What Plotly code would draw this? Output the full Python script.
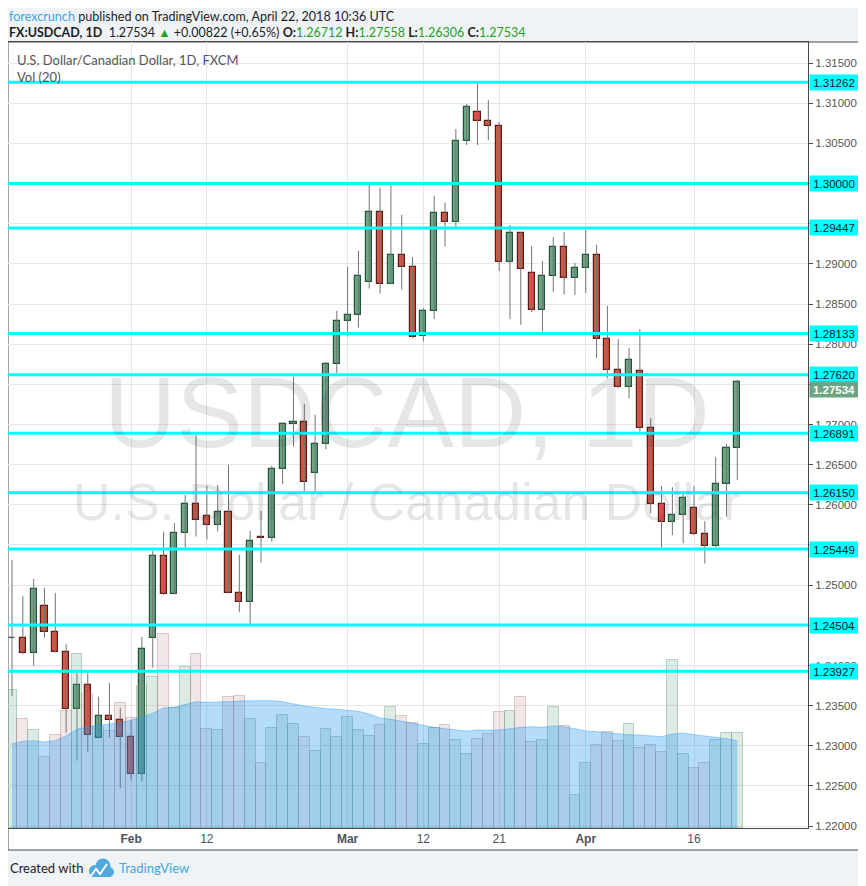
import pandas as pd
import plotly.graph_objects as go

# ---------------- data ----------------
dates = pd.bdate_range("2018-01-17", "2018-04-20").strftime("%Y-%m-%d").tolist()

open_ = [1.24337, 1.24339, 1.24153, 1.24738, 1.24414, 1.24165, 1.23455, 1.23754, 1.23094, 1.23372,
         1.23318, 1.23107, 1.22646, 1.24339, 1.25361, 1.24887, 1.25647, 1.26008, 1.25859, 1.25747,
         1.25908, 1.24900, 1.24788, 1.25597, 1.25585, 1.26444, 1.27004, 1.27029, 1.26394, 1.26755,
         1.27752, 1.28287, 1.28362, 1.28773, 1.29644, 1.28748, 1.29109, 1.28960, 1.28100, 1.28412,
         1.29632, 1.29520, 1.30529, 1.30890, 1.30778, 1.30715, 1.29022, 1.29383, 1.28885, 1.28424,
         1.28847, 1.29209, 1.28823, 1.28947, 1.29109, 1.28063, 1.27677, 1.27465, 1.27664, 1.26955,
         1.26008, 1.25784, 1.25871, 1.25958, 1.25635, 1.25485, 1.26257, 1.26712]
high = [1.25315, 1.24866, 1.25078, 1.24966, 1.24904, 1.24265, 1.23904, 1.23904, 1.23612, 1.23783,
        1.23475, 1.23318, 1.24356, 1.25427, 1.25663, 1.25775, 1.26124, 1.26871, 1.26236, 1.26248,
        1.26498, 1.25377, 1.25676, 1.25925, 1.26485, 1.27029, 1.27590, 1.27257, 1.27120, 1.27777,
        1.28415, 1.28963, 1.29163, 1.29984, 1.29947, 1.29984, 1.29611, 1.29084, 1.28449, 1.29848,
        1.29760, 1.30678, 1.30989, 1.31238, 1.31039, 1.30765, 1.29483, 1.29395, 1.29221, 1.29034,
        1.29333, 1.29395, 1.29009, 1.29420, 1.29237, 1.28478, 1.28063, 1.27951, 1.28187, 1.27079,
        1.26232, 1.26220, 1.26170, 1.26232, 1.25796, 1.26593, 1.26755, 1.27558]
low = [1.23621, 1.24140, 1.23998, 1.24347, 1.24163, 1.23164, 1.22815, 1.22927, 1.23091, 1.23102,
       1.22471, 1.22566, 1.22554, 1.23973, 1.24879, 1.24885, 1.25468, 1.25605, 1.25567, 1.25667,
       1.24897, 1.24663, 1.24517, 1.25281, 1.25542, 1.26257, 1.26725, 1.26165, 1.26145, 1.26693,
       1.27640, 1.28095, 1.28207, 1.28693, 1.28631, 1.28745, 1.28681, 1.28075, 1.28033, 1.28312,
       1.29216, 1.29465, 1.30479, 1.30479, 1.30541, 1.28910, 1.28312, 1.28241, 1.28399, 1.28158,
       1.28648, 1.28618, 1.28611, 1.28636, 1.27826, 1.27577, 1.27448, 1.27328, 1.26912, 1.25896,
       1.25473, 1.25622, 1.25522, 1.25622, 1.25268, 1.25473, 1.25854, 1.26306]
close = [1.24343, 1.24153, 1.24950, 1.24414, 1.24165, 1.23455, 1.23754, 1.23131, 1.23372, 1.23318,
         1.23107, 1.22646, 1.24202, 1.25361, 1.24887, 1.25647, 1.26008, 1.25809, 1.25747, 1.25908,
         1.24900, 1.24788, 1.25547, 1.25588, 1.26444, 1.27004, 1.27029, 1.26282, 1.26755, 1.27752,
         1.28287, 1.28362, 1.28847, 1.29644, 1.28748, 1.29109, 1.28960, 1.28088, 1.28412, 1.29632,
         1.29520, 1.30529, 1.30952, 1.30778, 1.30715, 1.29022, 1.29383, 1.28935, 1.28424, 1.28847,
         1.29209, 1.28823, 1.28947, 1.29109, 1.28063, 1.27677, 1.27465, 1.27801, 1.26955, 1.26008,
         1.25784, 1.25871, 1.26083, 1.25635, 1.25485, 1.26257, 1.26706, 1.27534]

volume = [138, 109, 98, 71, 93, 117, 174, 134, 101, 97,
          125, 110, 142, 151, 194, 120, 161, 174, 99, 98,
          131, 132, 109, 65, 100, 113, 104, 91, 77, 99,
          91, 111, 98, 92, 103, 121, 112, 105, 84, 100,
          103, 88, 74, 89, 94, 116, 117, 131, 86, 88,
          121, 102, 33, 65, 83, 96, 87, 104, 80, 83,
          76, 168, 74, 60, 65, 88, 95, 95]
volume_ma20 = [84.3, 86.7, 87.3, 86, 87.3, 92, 98.7, 101.3, 102.7, 104,
               105.3, 108, 110.7, 114.7, 120, 120.7, 123.3, 126.3, 125.7, 125.7,
               126.3, 127, 127, 126.7, 127.3, 126.3, 124, 122, 120.7, 119.3,
               118.7, 118, 116.7, 114, 110, 108.7, 106.7, 104, 102, 100.7,
               99.3, 98, 97, 98, 98, 98, 99.3, 100.7, 101.3, 100.7,
               102, 101.3, 99.3, 97, 96.3, 95.3, 94, 93.3, 93, 92.3,
               91.3, 94, 95, 93.3, 92.3, 90.7, 89.3, 87.3]

levels = [1.31262, 1.30000, 1.29447, 1.28133, 1.27620, 1.26891, 1.26150, 1.25449, 1.24504, 1.23927]
last_price = 1.27534

price_ticks = [1.220, 1.225, 1.230, 1.235, 1.240, 1.245, 1.250, 1.255, 1.260, 1.265,
               1.270, 1.275, 1.280, 1.285, 1.290, 1.295, 1.300, 1.305, 1.310, 1.315]
tick_dates = ["2018-02-01", "2018-02-12", "2018-03-01", "2018-03-12", "2018-03-21", "2018-04-02", "2018-04-16"]
tick_text = ["<b>Feb</b>", "12", "<b>Mar</b>", "12", "21", "<b>Apr</b>", "16"]

n = len(dates)
assert all(len(a) == n for a in (open_, high, low, close, volume, volume_ma20))

# tick labels that sit fully under a level label are not visible in the original
covered = levels + [last_price]
price_tick_text = ["" if any(abs(t - c) < 0.0006 for c in covered) else f"{t:.5f}" for t in price_ticks]

# ---------------- layout geometry (screen pixels) ----------------
VW, VH = 866, 886          # browser window
OFF = 8                    # default page margin of the html body
W, H = VW - OFF, VH - OFF  # figure size so that it ends at the window edge
PL, PR, PT, PB = 8, 808, 42, 828   # plot area in screen pixels


def fx(x):
    return (x - PL) / (PR - PL)


def fy(y):
    return (PB - y) / (PB - PT)


GREEN, GREEN_LINE = "#6ba583", "#225437"
RED, RED_LINE = "#d75442", "#5b1a13"
up = [c >= o for o, c in zip(open_, close)]

fig = go.Figure()

# volume bars
fig.add_trace(go.Bar(
    x=dates, y=volume, yaxis="y2", width=1.0,
    marker=dict(color=["rgba(107,165,131,0.22)" if u else "rgba(170,110,110,0.17)" for u in up],
                line=dict(color=["rgba(107,165,131,0.45)" if u else "rgba(170,110,110,0.35)" for u in up],
                          width=1)),
    hoverinfo="skip"))

# wicks
wx, wy = [], []
for d, hi, lo in zip(dates, high, low):
    wx += [d, d, None]
    wy += [lo, hi, None]
fig.add_trace(go.Scatter(x=wx, y=wy, mode="lines", line=dict(color="#737375", width=1),
                         hoverinfo="skip", connectgaps=False))

# candle bodies
fig.add_trace(go.Bar(
    x=dates,
    base=[min(o, c) for o, c in zip(open_, close)],
    y=[max(abs(c - o), 0.00002) for o, c in zip(open_, close)],
    width=0.56,
    marker=dict(color=[GREEN if u else RED for u in up],
                line=dict(color=[GREEN_LINE if u else RED_LINE for u in up], width=1.2))))

# volume MA area
fig.add_trace(go.Scatter(
    x=dates, y=volume_ma20, yaxis="y2", mode="lines", fill="tozeroy",
    line=dict(color="rgba(33,150,243,0.40)", width=1),
    fillcolor="rgba(33,150,243,0.33)", hoverinfo="skip"))

shapes = [
    # white outer frame
    dict(type="rect", xref="paper", yref="paper", x0=fx(PL), x1=fx(859), y0=fy(850), y1=fy(PT),
         line=dict(color="#4a4a4a", width=1), fillcolor="white", layer="below"),
]
for lv in levels:
    shapes.append(dict(type="line", xref="paper", x0=0, x1=1, yref="y", y0=lv, y1=lv,
                       line=dict(color="#00ffff", width=3), layer="above"))

# TradingView logo (small cloud)
LB = "#4fa9de"
for (cx, cy, r) in [(95, 871, 6), (103, 866, 7.5), (109, 872, 5)]:
    shapes.append(dict(type="circle", xref="paper", yref="paper", x0=fx(cx - r), x1=fx(cx + r),
                       y0=fy(cy + r), y1=fy(cy - r), fillcolor=LB, line=dict(width=0)))
shapes.append(dict(type="rect", xref="paper", yref="paper", x0=fx(92), x1=fx(111), y0=fy(877), y1=fy(870),
                   fillcolor=LB, line=dict(width=0)))
shapes.append(dict(type="path", xref="paper", yref="paper",
                   path=f"M {fx(91)},{fy(876)} L {fx(96)},{fy(869)} L {fx(100)},{fy(874)} L {fx(107)},{fy(864)}",
                   line=dict(color="white", width=2)))

FONT = "Lato, 'Open Sans', sans-serif"
AX_FONT = "'Liberation Sans', Arial, sans-serif"
annotations = []

# watermark
annotations.append(dict(xref="paper", yref="paper", x=fx(407), y=fy(412), xanchor="center", yanchor="middle",
                        text="USDCAD, 1D", showarrow=False,
                        font=dict(family=AX_FONT, size=100, color="rgba(60,60,75,0.13)")))
annotations.append(dict(xref="paper", yref="paper", x=fx(407), y=fy(501.5), xanchor="center", yanchor="middle",
                        text="U.S. Dollar / Canadian Dollar", showarrow=False,
                        font=dict(family=AX_FONT, size=52, color="rgba(60,60,75,0.13)")))

# header
annotations.append(dict(xref="paper", yref="paper", x=fx(8), y=fy(16.5), xanchor="left", yanchor="middle",
                        showarrow=False, borderpad=0,
                        text='<span style="color:#3fa7e1">forexcrunch</span> published on TradingView.com, April 22, 2018 10:36 UTC',
                        font=dict(family=FONT, size=12.6, color="#1e1e1e")))
G = "#22a322"
annotations.append(dict(xref="paper", yref="paper", x=fx(8), y=fy(33), xanchor="left", yanchor="middle",
                        showarrow=False, borderpad=0,
                        text=(f'<b>FX:USDCAD, 1D</b>  {last_price:.5f} <span style="color:{G}">▲</span> +0.00822 (+0.65%) '
                              f'<b>O:</b><span style="color:{G}">{open_[-1]:.5f}</span> '
                              f'<b>H:</b><span style="color:{G}">{high[-1]:.5f}</span> '
                              f'<b>L:</b><span style="color:{G}">{low[-1]:.5f}</span> '
                              f'<b>C:</b><span style="color:{G}">{close[-1]:.5f}</span>'),
                        font=dict(family=FONT, size=12.5, color="#1e1e1e")))
# pane titles
annotations.append(dict(xref="paper", yref="paper", x=fx(15), y=fy(60), xanchor="left", yanchor="middle",
                        showarrow=False, text="U.S. Dollar/Canadian Dollar, 1D, FXCM",
                        font=dict(family=FONT, size=13, color="#555555")))
annotations.append(dict(xref="paper", yref="paper", x=fx(15), y=fy(77), xanchor="left", yanchor="middle",
                        showarrow=False, text="Vol (20)",
                        font=dict(family=FONT, size=13, color="#555555")))
# footer
annotations.append(dict(xref="paper", yref="paper", x=fx(8), y=fy(868), xanchor="left", yanchor="middle",
                        showarrow=False, text="Created with",
                        font=dict(family=FONT, size=13, color="#1e1e1e")))
annotations.append(dict(xref="paper", yref="paper", x=fx(117), y=fy(868), xanchor="left", yanchor="middle",
                        showarrow=False, text="TradingView",
                        font=dict(family=FONT, size=13, color="#3fa7e1")))

# level labels on price axis
for lv in levels:
    annotations.append(dict(xref="paper", x=1, xanchor="left", xshift=1, yref="y", y=lv, yanchor="middle",
                            text=f"{lv:.5f}", showarrow=False, bgcolor="#00ffff", width=48, height=15,
                            align="center", borderpad=0,
                            font=dict(family=AX_FONT, size=11.5, color="#131722")))
# last-price label (pushed just below the 1.27620 label, as in the original)
annotations.append(dict(xref="paper", x=1, xanchor="left", xshift=1, yref="y", y=last_price, yanchor="middle",
                        yshift=-8,
                        text=f"<b>{last_price:.5f}</b>", showarrow=False, bgcolor=GREEN, width=48, height=15,
                        align="center", borderpad=0,
                        font=dict(family=AX_FONT, size=11.5, color="white")))

fig.update_layout(
    width=W, height=H,
    margin=dict(l=PL - OFF, r=VW - PR, t=PT - OFF, b=VH - PB, pad=0),
    paper_bgcolor="#f0f3f6", plot_bgcolor="white",
    showlegend=False, barmode="overlay", bargap=0,
    shapes=shapes, annotations=annotations,
    xaxis=dict(type="category", range=[-0.37, 73.53], tickmode="array", tickvals=tick_dates, ticktext=tick_text,
               showgrid=True, gridcolor="#e6e6e6", gridwidth=1, zeroline=False,
               showline=True, linecolor="#4a4a4a", linewidth=1, mirror=True, ticks="",
               tickfont=dict(family=AX_FONT, size=12, color="#4c525e"), rangeslider=dict(visible=False),
               fixedrange=True),
    yaxis=dict(side="right", range=[1.21977, 1.317615], tickmode="array", tickvals=price_ticks,
               ticktext=price_tick_text,
               showgrid=True, gridcolor="#e6e6e6", gridwidth=1, zeroline=False,
               showline=True, linecolor="#4a4a4a", linewidth=1, mirror=True,
               ticks="outside", ticklen=4, tickcolor="#4a4a4a",
               tickfont=dict(family=AX_FONT, size=11.5, color="#555555"), fixedrange=True),
    yaxis2=dict(overlaying="y", range=[0, PB - PT], visible=False, fixedrange=True),
)

fig.write_html("out.html")
